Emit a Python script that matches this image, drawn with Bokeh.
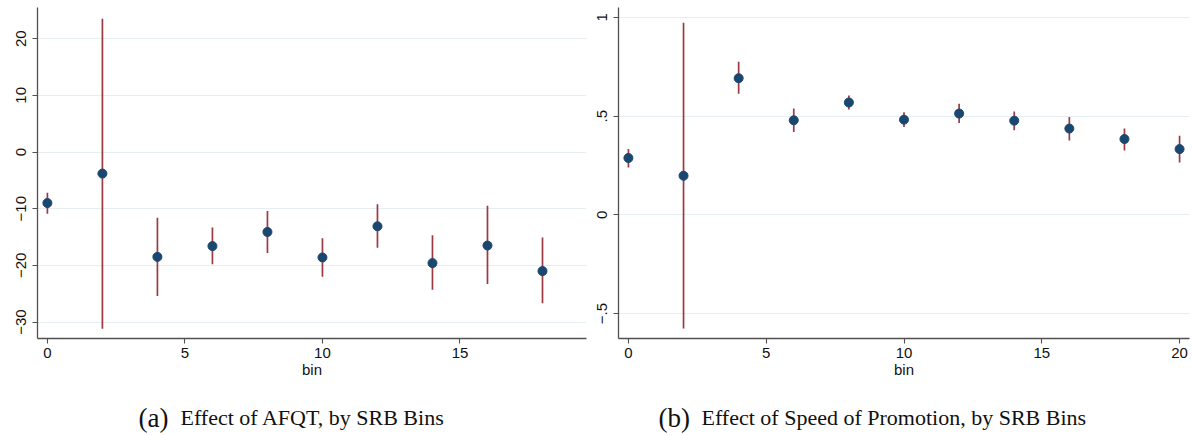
from bokeh.plotting import figure
from bokeh.layouts import row, column
from bokeh.models import FixedTicker, Range1d
from bokeh.core.properties import value
from bokeh.embed import file_html
from bokeh.resources import INLINE

# ---- data: panel (a) Effect of AFQT
bins_a = [0, 2, 4, 6, 8, 10, 12, 14, 16, 18]
est_a = [-9.0, -3.8, -18.5, -16.6, -14.1, -18.6, -13.1, -19.6, -16.5, -21.0]
lo_a = [-10.9, -31.2, -25.4, -19.8, -17.8, -22.0, -16.9, -24.3, -23.3, -26.7]
hi_a = [-7.2, 23.5, -11.6, -13.3, -10.4, -15.2, -9.2, -14.7, -9.5, -15.1]
yticks_a = [-30, -20, -10, 0, 10, 20]
ylabels_a = ["\u221230", "\u221220", "\u221210", "0", "10", "20"]
xticks_a = [0, 5, 10, 15]

# ---- data: panel (b) Effect of Speed of Promotion
bins_b = [0, 2, 4, 6, 8, 10, 12, 14, 16, 18, 20]
est_b = [0.288, 0.198, 0.692, 0.479, 0.569, 0.482, 0.513, 0.477, 0.437, 0.384, 0.333]
lo_b = [0.240, -0.575, 0.613, 0.420, 0.533, 0.445, 0.465, 0.428, 0.377, 0.326, 0.265]
hi_b = [0.333, 0.973, 0.775, 0.538, 0.604, 0.519, 0.563, 0.524, 0.496, 0.437, 0.401]
yticks_b = [-0.5, 0, 0.5, 1]
ylabels_b = ["\u2212.5", "0", ".5", "1"]
xticks_b = [0, 5, 10, 15, 20]

x_label = "bin"
caption_a = ("(a)", "Effect of AFQT, by SRB Bins")
caption_b = ("(b)", "Effect of Speed of Promotion, by SRB Bins")

SANS = "Liberation Sans"
SERIF = "Liberation Serif"
AXIS_COL = "#505050"


def panel(bins, est, lo, hi, xr, yr, yticks, ylabels, xticks, width, bl, br):
    p = figure(width=width, height=385, x_range=Range1d(*xr), y_range=Range1d(*yr),
               toolbar_location=None, output_backend="svg",
               min_border_left=bl, min_border_right=br, min_border_top=7,
               min_border_bottom=47)
    p.title.visible = False
    p.outline_line_color = None
    p.background_fill_color = "white"
    p.border_fill_color = "white"
    p.xgrid.visible = False
    p.ygrid.grid_line_color = "#e6eef1"
    p.ygrid.grid_line_width = 1.2
    p.xaxis.ticker = FixedTicker(ticks=xticks)
    p.yaxis.ticker = FixedTicker(ticks=yticks)
    p.yaxis.major_label_overrides = {float(t): l for t, l in zip(yticks, ylabels)}
    p.yaxis.major_label_orientation = "vertical"
    for ax in (p.xaxis, p.yaxis):
        ax.axis_line_color = AXIS_COL
        ax.axis_line_width = 1.3
        ax.major_tick_line_color = AXIS_COL
        ax.major_tick_line_width = 1.1
        ax.major_tick_in = 0
        ax.major_tick_out = 5
        ax.minor_tick_line_color = None
        ax.major_label_text_font = SANS
        ax.major_label_text_font_size = "15px"
        ax.major_label_text_color = "#111111"
    p.yaxis.major_label_standoff = 6
    p.xaxis.major_label_standoff = 4
    p.xaxis.axis_label = x_label
    p.xaxis.axis_label_text_font = SANS
    p.xaxis.axis_label_text_font_size = "15px"
    p.xaxis.axis_label_text_font_style = "normal"
    p.xaxis.axis_label_text_color = "#111111"
    p.xaxis.axis_label_standoff = 0
    p.segment(x0=bins, y0=lo, x1=bins, y1=hi, line_color="#9b3a42", line_width=1.7)
    p.scatter(x=bins, y=est, size=9, fill_color="#1a476f", line_color="#1a476f")
    return p


def caption(width, bl, br, cap, x_tag, x_text):
    # caption frame is aligned with the panel frame above it (column alignment),
    # so the x range maps the figure's own pixel coordinates over that frame
    c = figure(width=width, height=50,
               x_range=Range1d(bl, width - br), y_range=Range1d(0, 50),
               x_axis_type=None, y_axis_type=None,
               toolbar_location=None, output_backend="svg",
               min_border=0, min_border_left=bl, min_border_right=br,
               min_border_top=0, min_border_bottom=0)
    c.title.visible = False
    c.grid.visible = False
    c.outline_line_color = None
    c.text(x=[x_tag], y=[18], text=[cap[0]], text_font=value(SERIF),
           text_font_size="27px", text_baseline="middle", text_color="#111111")
    c.text(x=[x_text], y=[18], text=[cap[1]], text_font=value(SERIF),
           text_font_size="22px", text_baseline="middle", text_color="#111111")
    return c


pa = panel(bins_a, est_a, lo_a, hi_a, (-0.36, 19.6), (-32.9, 25.5),
           yticks_a, ylabels_a, xticks_a, 589, 37, 3)
pb = panel(bins_b, est_b, lo_b, hi_b, (-0.36, 20.36), (-0.626, 1.05),
           yticks_b, ylabels_b, xticks_b, 607, 29, 7)
ca = caption(589, 37, 3, caption_a, 138, 180)
cb = caption(607, 29, 7, caption_b, 69, 112)

layout = row(column(pa, ca), column(pb, cb))
open("out.html", "w").write(file_html(layout, INLINE))
